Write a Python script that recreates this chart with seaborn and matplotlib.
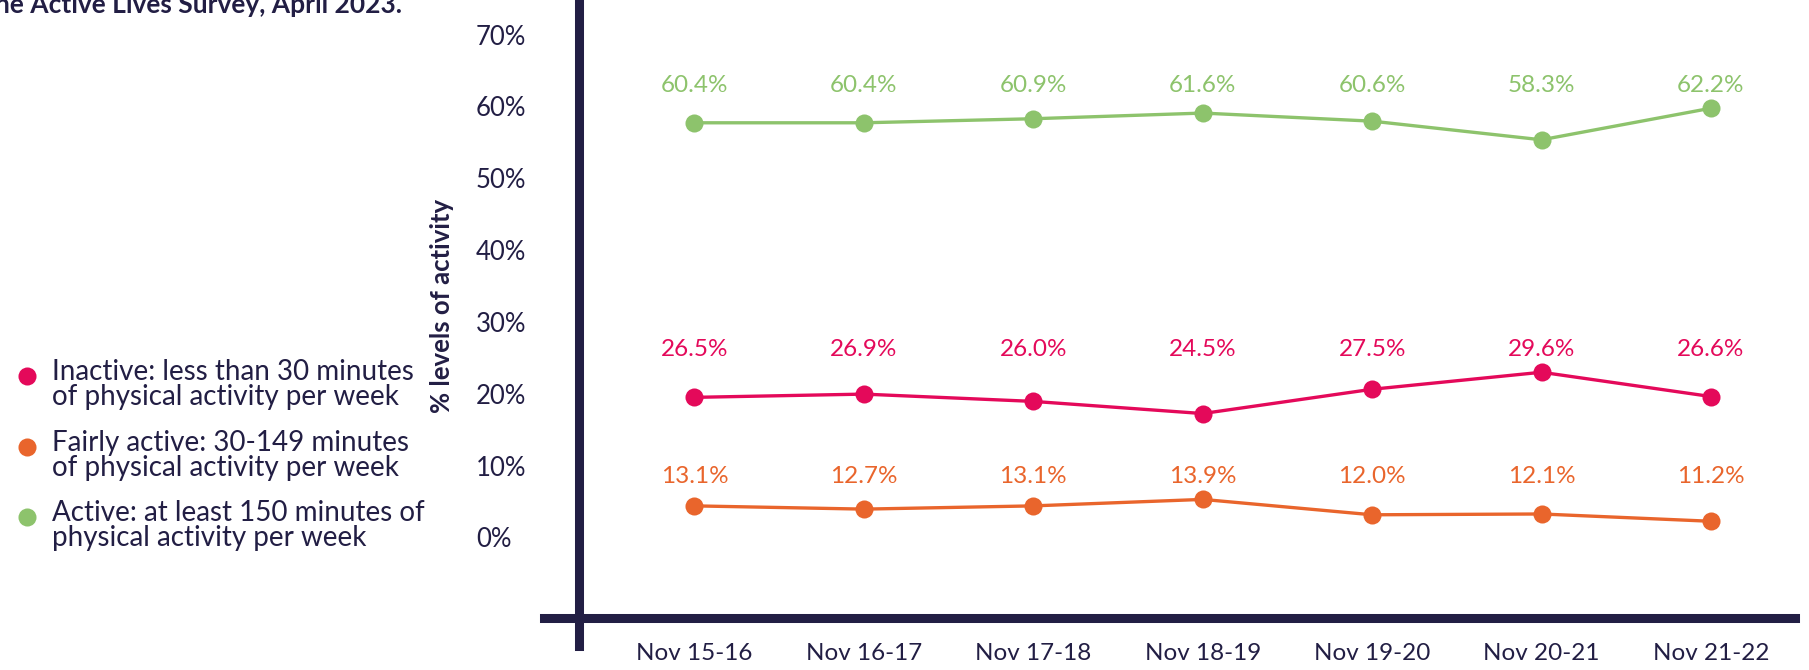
import matplotlib
matplotlib.use("Agg")
import matplotlib.pyplot as plt
from matplotlib.lines import Line2D
import seaborn as sns
import pandas as pd
import numpy as np

# ==============================
# Data
# ==============================
periods = ["Nov 15-16", "Nov 16-17", "Nov 17-18", "Nov 18-19",
           "Nov 19-20", "Nov 20-21", "Nov 21-22"]
active        = [60.4, 60.4, 60.9, 61.6, 60.6, 58.3, 62.2]
inactive      = [26.5, 26.9, 26.0, 24.5, 27.5, 29.6, 26.6]
fairly_active = [13.1, 12.7, 13.1, 13.9, 12.0, 12.1, 11.2]

series_names  = ["Active", "Inactive", "Fairly active"]
legend_order  = ["Inactive", "Fairly active", "Active"]
legend_labels = [
    "Inactive: less than 30 minutes\nof physical activity per week",
    "Fairly active: 30-149 minutes\nof physical activity per week",
    "Active: at least 150 minutes of\nphysical activity per week",
]
y_tick_labels  = ["0%", "10%", "20%", "30%", "40%", "50%", "60%", "70%"]
y_label        = "% levels of activity"
title_fragment = "he Active Lives Survey, April 2023."

# ==============================
# Style
# ==============================
NAVY = "#221e44"
palette = {"Active": "#8dc36c", "Inactive": "#e4095a", "Fairly active": "#e9652c"}

sns.set_theme(style="white")
plt.rcParams["font.family"] = ["Lato", "DejaVu Sans"]

df = pd.DataFrame({
    "period": periods * 3,
    "level":  np.repeat(series_names, len(periods)),
    "value":  active + inactive + fairly_active,
})

W, H = 1809, 670
fig = plt.figure(figsize=(W / 100, H / 100), dpi=100)
ax = fig.add_axes([544 / W, 1 - 646 / H, (1795 - 544) / W, 646 / H])

sns.lineplot(
    data=df, x="period", y="value", hue="level", palette=palette,
    marker="o", markersize=13, markeredgewidth=0, linewidth=2.4,
    sort=False, legend=False, ax=ax,
)

# value labels sit in one row just above each series
for name in series_names:
    vals = df.loc[df["level"] == name, "value"].to_numpy()
    row = vals.max() + 2.8
    for i, v in enumerate(vals):
        ax.text(i, row, f"{v:.1f}%", ha="center", va="center",
                fontsize=17.5, color=palette[name])

# ==============================
# Axes
# ==============================
ax.set_xlim(-0.888, 6.496)
ax.set_ylim(-4.2, 75.56)
ax.set_xlabel("")
ax.set_ylabel("")

for side in ["top", "right"]:
    ax.spines[side].set_visible(False)
for side in ["left", "bottom"]:
    ax.spines[side].set_color(NAVY)
    ax.spines[side].set_linewidth(6.5)
ax.spines["left"].set_position(("data", -0.679))
ax.spines["bottom"].set_position(("data", -0.8))

ax.set_yticks(np.linspace(9.2, 71.3, len(y_tick_labels)))
ax.set_yticklabels(y_tick_labels, ha="left")
ax.tick_params(axis="y", length=0, pad=74.5, labelsize=18.5, labelcolor=NAVY)
ax.tick_params(axis="x", length=0, pad=18, labelsize=17.5, labelcolor=NAVY)
ax.grid(False)

fig.text(442 / W, 1 - 306 / H, y_label, rotation=90, ha="center", va="center",
         fontsize=18.5, fontweight="bold", color=NAVY)

fig.text(-0.003, 1 - 13 / H, title_fragment, ha="left", va="baseline",
         fontsize=19, fontweight="bold", color=NAVY)

# ==============================
# Legend (left side)
# ==============================
for name, text, y in zip(legend_order, legend_labels, [376, 447, 517]):
    fig.add_artist(Line2D([27 / W], [1 - y / H], transform=fig.transFigure,
                          marker="o", markersize=13, markeredgewidth=0,
                          linestyle="", color=palette[name]))
    fig.text(52 / W, 1 - (y + 29) / H, text, ha="left", va="baseline",
             fontsize=20, linespacing=0.945, color=NAVY)

fig.savefig("out.png", dpi=100)
